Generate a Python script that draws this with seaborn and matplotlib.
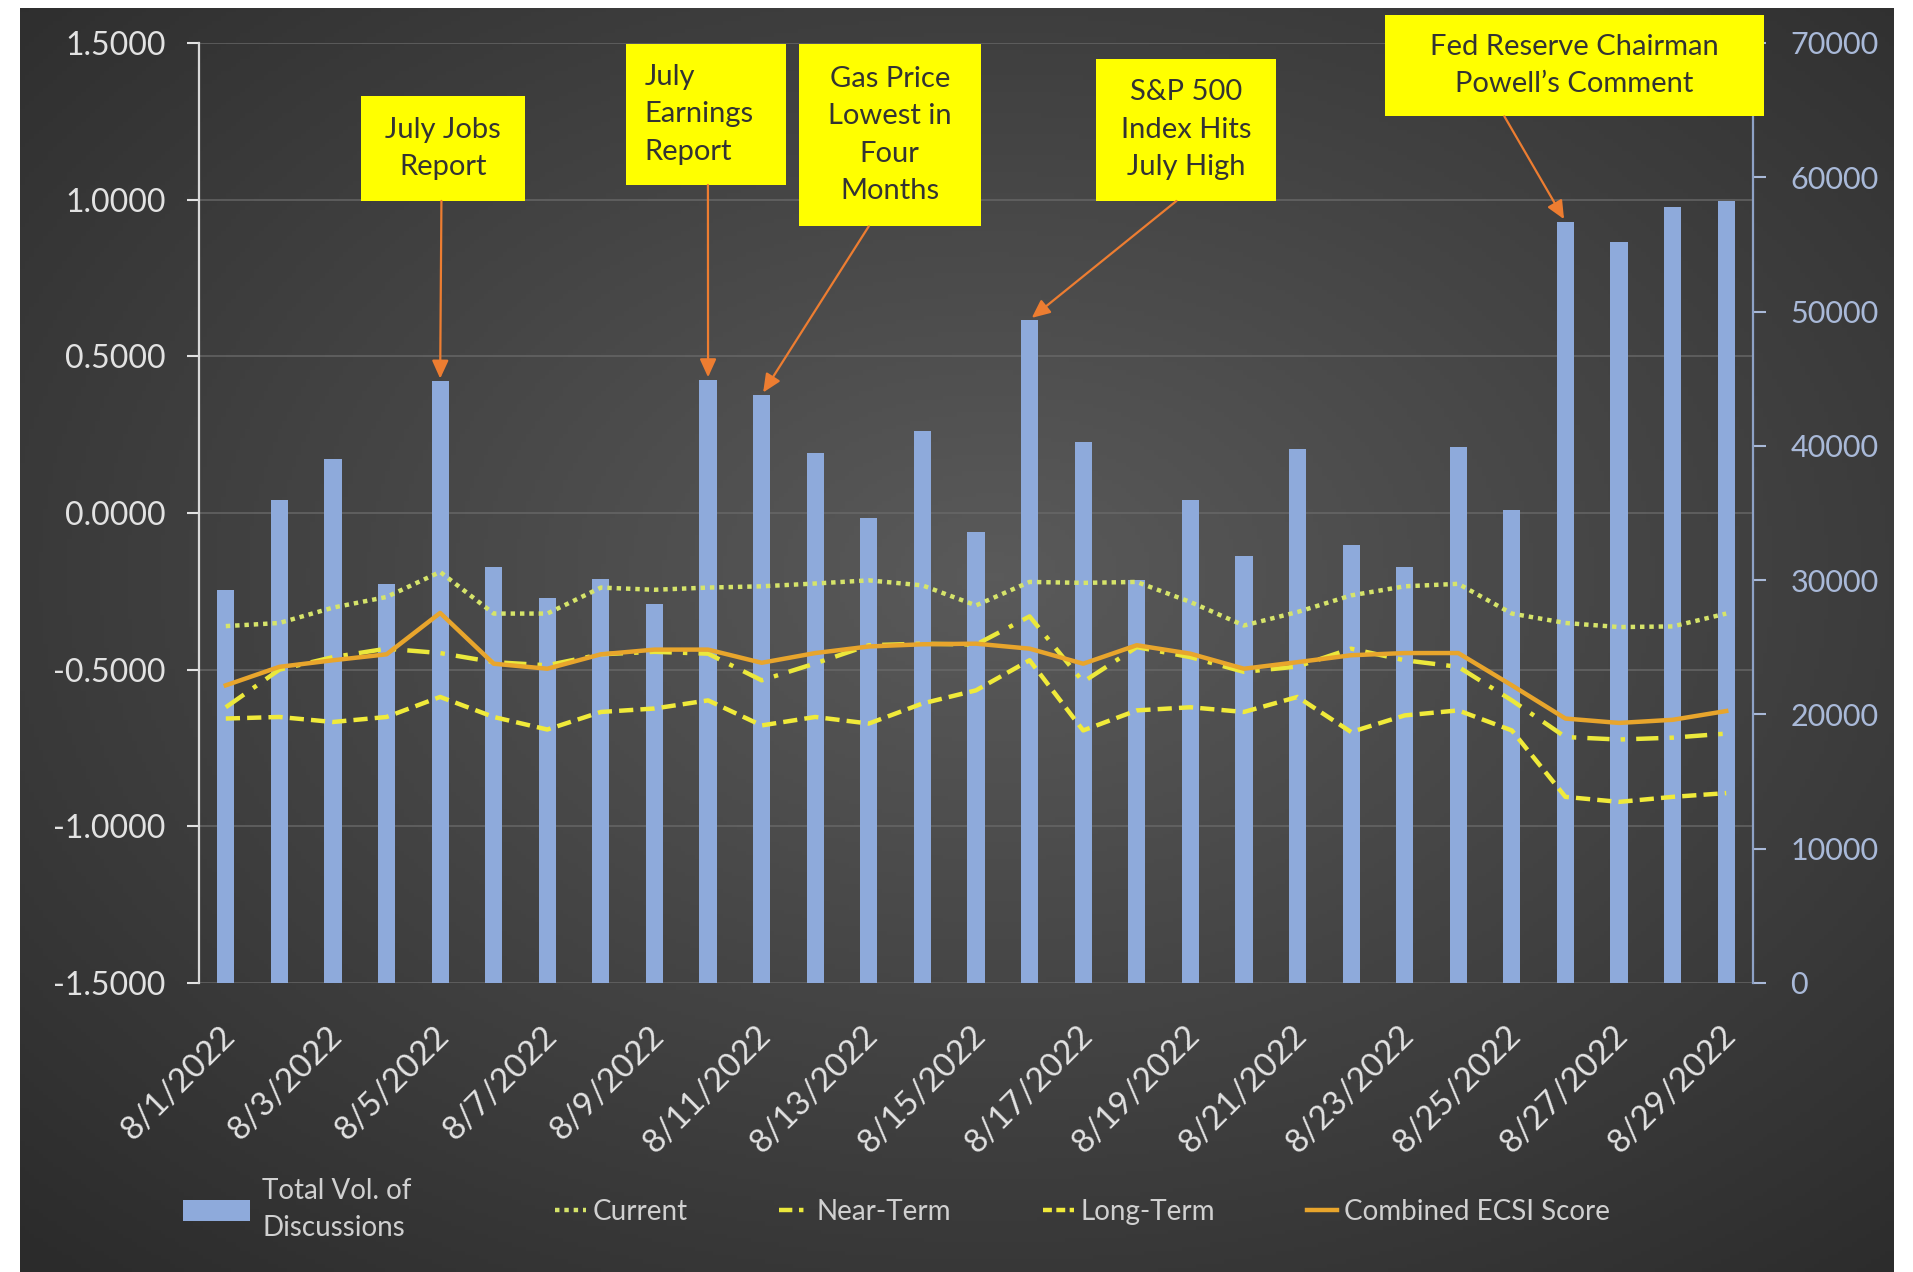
import numpy as np
import matplotlib
matplotlib.use("Agg")
import matplotlib.pyplot as plt
import matplotlib.transforms as mtransforms
from matplotlib.patches import Rectangle, Patch
from matplotlib.lines import Line2D
from matplotlib.colors import LinearSegmentedColormap
import seaborn as sns

# ---------------- data ----------------
dates = ["8/1/2022", "8/2/2022", "8/3/2022", "8/4/2022", "8/5/2022", "8/6/2022",
         "8/7/2022", "8/8/2022", "8/9/2022", "8/10/2022", "8/11/2022", "8/12/2022",
         "8/13/2022", "8/14/2022", "8/15/2022", "8/16/2022", "8/17/2022", "8/18/2022",
         "8/19/2022", "8/20/2022", "8/21/2022", "8/22/2022", "8/23/2022", "8/24/2022",
         "8/25/2022", "8/26/2022", "8/27/2022", "8/28/2022", "8/29/2022"]
total_volume = [29300, 36000, 39000, 29700, 44800, 31000, 28700, 30100, 28200, 44900,
                43800, 39500, 34600, 41100, 33600, 49400, 40300, 30000, 36000, 31800,
                39800, 32600, 31000, 39900, 35200, 56700, 55200, 57800, 58200]
current = [-0.361, -0.351, -0.302, -0.268, -0.188, -0.321, -0.321, -0.238, -0.245, -0.238,
           -0.234, -0.225, -0.215, -0.231, -0.295, -0.220, -0.223, -0.220, -0.284, -0.359,
           -0.316, -0.263, -0.234, -0.226, -0.321, -0.351, -0.364, -0.362, -0.321]
near_term = [-0.620, -0.500, -0.460, -0.433, -0.447, -0.476, -0.486, -0.451, -0.443, -0.449,
             -0.534, -0.480, -0.422, -0.417, -0.420, -0.330, -0.539, -0.428, -0.460, -0.507,
             -0.490, -0.433, -0.470, -0.491, -0.598, -0.715, -0.723, -0.717, -0.704]
long_term = [-0.656, -0.651, -0.667, -0.651, -0.587, -0.651, -0.691, -0.635, -0.624, -0.598,
             -0.678, -0.651, -0.672, -0.608, -0.566, -0.470, -0.694, -0.630, -0.620, -0.635,
             -0.587, -0.699, -0.646, -0.630, -0.694, -0.906, -0.922, -0.906, -0.894]
combined = [-0.550, -0.491, -0.470, -0.451, -0.319, -0.481, -0.497, -0.451, -0.436, -0.436,
            -0.478, -0.447, -0.426, -0.419, -0.417, -0.433, -0.481, -0.422, -0.449, -0.497,
            -0.476, -0.454, -0.447, -0.447, -0.550, -0.656, -0.670, -0.660, -0.632]
left_ticks = [-1.5, -1.0, -0.5, 0.0, 0.5, 1.0, 1.5]
right_ticks = [0, 10000, 20000, 30000, 40000, 50000, 60000, 70000]
series_labels = ["Total Vol. of\nDiscussions", "Current", "Near-Term", "Long-Term",
                 "Combined ECSI Score"]
notes = [
    # (text, bar index, box [x0, y0, w, h] axes frac, arrow start axes frac, align)
    ("July Jobs\nReport", 4, [0.104, 0.832, 0.106, 0.112], (0.156, 0.832), "center"),
    ("July\nEarnings\nReport", 9, [0.275, 0.849, 0.103, 0.150], (0.3275, 0.849), "left"),
    ("Gas Price\nLowest in\nFour\nMonths", 10, [0.386, 0.805, 0.117, 0.194], (0.431, 0.805), "center"),
    ("S&P 500\nIndex Hits\nJuly High", 15, [0.577, 0.832, 0.116, 0.151], (0.629, 0.832), "center"),
    ("Fed Reserve Chairman\nPowell\u2019s Comment", 25, [0.763, 0.922, 0.244, 0.108], (0.840, 0.922), "center"),
]

# ---------------- style ----------------
plt.rcParams['font.family'] = ['Lato', 'DejaVu Sans']
BAR_C = '#8eaadb'
CUR_C = '#d6e46a'
NEAR_C = '#ebe83c'
LONG_C = '#f0ea3a'
COMB_C = '#e8a52c'
LEFT_TXT = '#e2e2e2'
RIGHT_TXT = '#a9b9d8'

W, H = 1913, 1272
fig = plt.figure(figsize=(W / 100, H / 100), dpi=100, facecolor='white')

# dark gradient background panel
bg = fig.add_axes([20 / W, 0, 1874 / W, 1264 / H])
bg.set_zorder(-10)
yy, xx = np.mgrid[0:1:300j, 0:1:400j]
r = np.sqrt(((xx - 0.52) / 0.75) ** 2 + ((yy - 0.45) / 0.75) ** 2)
r = np.clip(r, 0, 1)
cmap = LinearSegmentedColormap.from_list('bg', ['#5a5a5a', '#2b2b2b'])
bg.imshow(r, extent=[0, 1, 0, 1], aspect='auto', cmap=cmap, origin='upper')
bg.set_axis_off()

# main axes (bars, right scale)
L, R, T, B = 199, 1753, 43, 983
ax = fig.add_axes([L / W, 1 - B / H, (R - L) / W, (B - T) / H])
ax.patch.set_visible(False)
ax2 = ax.twinx()

sns.barplot(x=dates, y=total_volume, ax=ax, color=BAR_C, saturation=1,
            width=0.32, errorbar=None, zorder=2)

idx = np.arange(len(dates))
sns.lineplot(x=idx, y=current, ax=ax2, color=CUR_C, linewidth=3.2,
             linestyle=(0, (1, 1.1)), legend=False)
sns.lineplot(x=idx, y=near_term, ax=ax2, color=NEAR_C, linewidth=3.2,
             linestyle=(0, (5, 2.5, 1, 2.5)), legend=False)
sns.lineplot(x=idx, y=long_term, ax=ax2, color=LONG_C, linewidth=3.2,
             linestyle=(0, (3.2, 1.6)), legend=False)
sns.lineplot(x=idx, y=combined, ax=ax2, color=COMB_C, linewidth=3.2,
             linestyle='-', legend=False)

# axis limits
ax.set_xlim(-0.5, len(dates) - 0.5)
ax2.set_xlim(-0.5, len(dates) - 0.5)
ax.set_ylim(0, 70000)
ax2.set_ylim(-1.5, 1.5)

# gridlines (left scale) drawn behind the bars
gtrans = mtransforms.blended_transform_factory(ax.transAxes, ax2.transData)
for v in left_ticks:
    ax.add_line(Line2D([0, 1], [v, v], transform=gtrans, color='#6a6a6a',
                       lw=1.4, alpha=0.7, zorder=0.5))

# right axis (volume)
ax.yaxis.tick_right()
ax.yaxis.set_label_position('right')
ax.set_yticks(right_ticks)
ax.set_yticklabels([str(v) for v in right_ticks])
ax.tick_params(axis='y', which='both', right=True, left=False, labelright=True,
               labelleft=False, colors=RIGHT_TXT, labelsize=22, length=9, width=1.5,
               pad=18, direction='out')
ax.set_ylabel('')
ax.set_xlabel('')
for s in ['left', 'top', 'bottom']:
    ax.spines[s].set_visible(False)
ax.spines['right'].set_color('#8ea2c6')
ax.spines['right'].set_linewidth(1.6)

# left axis (scores)
ax2.yaxis.tick_left()
ax2.yaxis.set_label_position('left')
ax2.set_yticks(left_ticks)
ax2.set_yticklabels([f"{v:.4f}" for v in left_ticks])
ax2.tick_params(axis='y', which='both', left=True, right=False, labelleft=True,
                labelright=False, colors=LEFT_TXT, labelsize=23, length=9, width=1.5,
                pad=15, direction='out')
ax2.set_ylabel('')
for s in ['right', 'top', 'bottom']:
    ax2.spines[s].set_visible(False)
ax2.spines['left'].set_color('#d9d9d9')
ax2.spines['left'].set_linewidth(1.6)

# x tick labels
ax.set_xticks(idx[::2])
ax.set_xticklabels(dates[::2])
ax.tick_params(axis='x', length=0, pad=27, labelsize=24, colors=LEFT_TXT)
offset = mtransforms.ScaledTranslation(-6 / 100, 0, fig.dpi_scale_trans)
for lab in ax.get_xticklabels():
    lab.set_rotation(45)
    lab.set_ha('right')
    lab.set_va('top')
    lab.set_rotation_mode('anchor')
    lab.set_transform(lab.get_transform() + offset)

# annotations
for text, bi, box, start, align in notes:
    x0, y0, w, h = box
    ax.add_patch(Rectangle((x0, y0), w, h, transform=ax.transAxes, facecolor='#ffff00',
                           edgecolor='none', clip_on=False, zorder=6))
    if align == 'left':
        tx = x0 + 0.0115
    else:
        tx = x0 + w / 2
    ax.text(tx, y0 + h / 2, text, transform=ax.transAxes, ha=align, va='center',
            fontsize=21, color='#333333', linespacing=1.55, zorder=7, clip_on=False)
    ax.annotate('', xy=(bi, total_volume[bi]), xycoords='data', xytext=start,
                textcoords='axes fraction', annotation_clip=False, zorder=6,
                arrowprops=dict(arrowstyle='-|>,head_length=0.55,head_width=0.25',
                                color='#ed7d31', lw=1.6, shrinkA=0, shrinkB=2,
                                mutation_scale=20))

# legends
bar_handle = [Patch(facecolor=BAR_C, edgecolor='none')]
leg1 = fig.legend(bar_handle, series_labels[:1], loc='center left',
                  bbox_to_anchor=(183 / W, 0.049), frameon=False, fontsize=20,
                  handlelength=2.4, handleheight=0.8, handletextpad=0.45,
                  borderpad=0, borderaxespad=0, labelcolor='#d0d0d0')
for t in leg1.get_texts():
    t.set_linespacing(1.55)
line_handles = [
    Line2D([], [], color=CUR_C, lw=3.2, linestyle=(0, (1, 1.1))),
    Line2D([], [], color=NEAR_C, lw=3.2, linestyle=(0, (3, 1.5, 1, 1.5))),
    Line2D([], [], color=LONG_C, lw=3.2, linestyle=(0, (2, 1))),
    Line2D([], [], color=COMB_C, lw=3.2, linestyle='-'),
]
leg2 = fig.legend(line_handles, series_labels[1:], loc='center left',
                  bbox_to_anchor=(555 / W, 0.047), frameon=False, fontsize=20, ncol=4,
                  handlelength=1.1, handletextpad=0.25, columnspacing=3.3,
                  borderpad=0, borderaxespad=0, labelcolor='#d0d0d0')

fig.savefig('out.png', dpi=100, facecolor='white')
